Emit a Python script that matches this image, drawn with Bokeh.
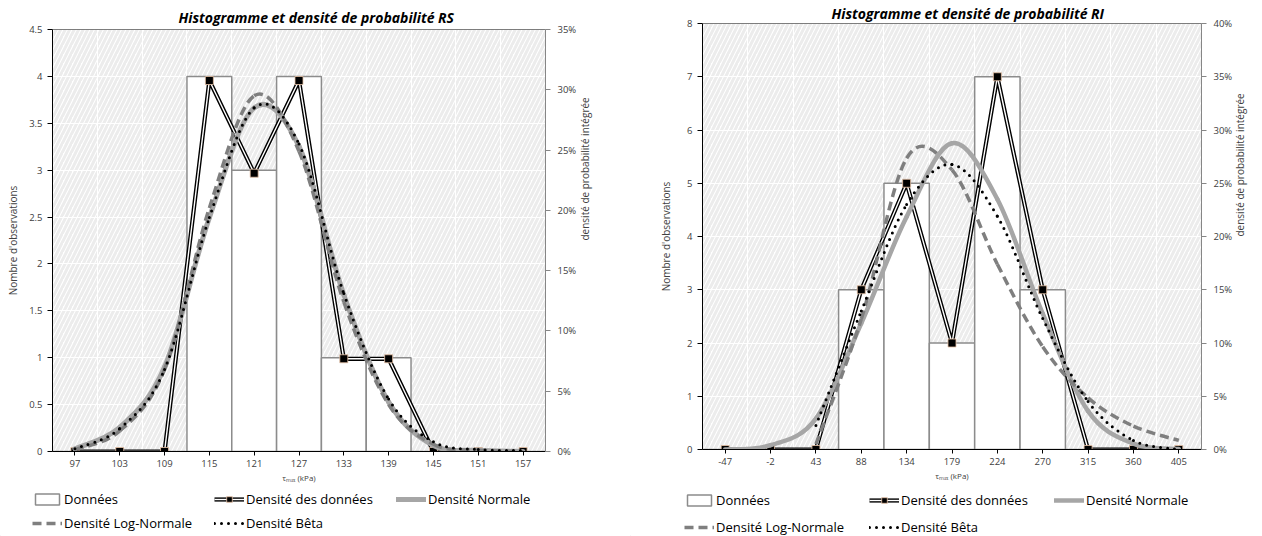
import math
from bokeh.plotting import figure
from bokeh.layouts import row, column
from bokeh.models import (Range1d, LinearAxis, FixedTicker, NumeralTickFormatter,
                          BoxAnnotation, Span, Legend, LegendItem)
from bokeh.embed import file_html
from bokeh.resources import INLINE

NaN = float("nan")

# ---------------- data : RS ----------------
rs_title = "Histogramme et densité de probabilité RS"
rs_categories = ["97", "103", "109", "115", "121", "127", "133", "139", "145", "151", "157"]
rs_counts = [0, 0, 0, 4, 3, 4, 1, 1, 0, 0, 0]
rs_data_density = [0, 0, 0, 0.3077, 0.2308, 0.3077, 0.0769, 0.0769, 0, 0, 0]
rs_normal = [0.0023, 0.020, 0.070, 0.194, 0.285, 0.253, 0.130, 0.041, 0.005, 0.001, 0.0]
rs_lognormal = [0.0016, 0.017, 0.068, 0.202, 0.295, 0.249, 0.124, 0.039, 0.006, 0.001, 0.0]
rs_beta = [0.0023, 0.019, 0.068, 0.194, 0.285, 0.255, 0.131, 0.0435, 0.008, 0.0016, 0.0008]
rs_count_ticks = [0, 0.5, 1, 1.5, 2, 2.5, 3, 3.5, 4, 4.5]
rs_count_labels = ["0", "0.5", "1", "1.5", "2", "2.5", "3", "3.5", "4", "4.5"]
rs_pct_ticks = [0, 0.05, 0.10, 0.15, 0.20, 0.25, 0.30, 0.35]

# ---------------- data : RI ----------------
ri_title = "Histogramme et densité de probabilité RI"
ri_categories = ["-47", "-2", "43", "88", "134", "179", "224", "270", "315", "360", "405"]
ri_counts = [0, 0, 0, 3, 5, 2, 7, 3, 0, 0, 0]
ri_data_density = [0, 0, 0, 0.15, 0.25, 0.10, 0.35, 0.15, 0, 0, 0]
ri_normal = [0.0, 0.004, 0.029, 0.1185, 0.2185, 0.2875, 0.235, 0.1275, 0.036, 0.0055, 0.0005]
ri_lognormal = [NaN, NaN, 0.005, 0.1225, 0.2735, 0.2625, 0.174, 0.0965, 0.0485, 0.022, 0.0085]
ri_beta = [NaN, NaN, 0.0225, 0.13, 0.23, 0.2675, 0.219, 0.123, 0.045, 0.0085, 0.0]
ri_count_ticks = [0, 1, 2, 3, 4, 5, 6, 7, 8]
ri_count_labels = ["0", "1", "2", "3", "4", "5", "6", "7", "8"]
ri_pct_ticks = [0, 0.05, 0.10, 0.15, 0.20, 0.25, 0.30, 0.35, 0.40]

legend_labels = ["Données", "Densité des données", "Densité Normale",
                 "Densité Log-Normale", "Densité Bêta"]
y_left_title = "Nombre d'observations"
y_right_title = "densité de probabilité intégrée"
x_title = "τₘₐₓ (kPa)"

FONT = "Open Sans"
TXT = "#404040"

# shared series styles
ST_BAR = dict(fill_color="white", line_color="#8c8c8c", line_width=1.5)
ST_DB = dict(line_color="black", line_width=4.2)
ST_DW = dict(line_color="white", line_width=1.4)
ST_DM = dict(marker="square", size=8, fill_color="black", line_color="#e9c3a6", line_width=0.8)
ST_LOGN = dict(line_color="#7f7f7f", line_width=3.5, line_dash="9 5")
ST_BETA = dict(line_color="black", line_width=3, line_dash="0 7", line_cap="round")


def smooth_segments(vals):
    """Bezier control points (Excel-like smoothing) between consecutive values."""
    n = len(vals)
    ok = [not math.isnan(v) for v in vals]
    d = {k: [] for k in ("x0", "y0", "x1", "y1", "cx0", "cy0", "cx1", "cy1")}
    for i in range(n - 1):
        if not (ok[i] and ok[i + 1]):
            continue
        p = i - 1 if i - 1 >= 0 and ok[i - 1] else i
        q = i + 2 if i + 2 < n and ok[i + 2] else i + 1
        d["x0"].append(i)
        d["y0"].append(vals[i])
        d["x1"].append(i + 1)
        d["y1"].append(vals[i + 1])
        d["cx0"].append(i + (i + 1 - p) / 6.0)
        d["cy0"].append(vals[i] + (vals[i + 1] - vals[p]) / 6.0)
        d["cx1"].append(i + 1 - (q - i) / 6.0)
        d["cy1"].append(vals[i + 1] - (vals[q] - vals[i]) / 6.0)
    return d


def make_chart(title, cats, counts, dens, normal, lognormal, beta,
               count_ticks, count_labels, pct_ticks, g):
    n = len(cats)
    idx = list(range(n))
    p = figure(width=g["width"], height=485, output_backend="svg", toolbar_location=None,
               title=title,
               x_range=Range1d(-0.5, n - 0.5), y_range=Range1d(0, count_ticks[-1]),
               min_border_left=g["bl"], min_border_right=g["br"],
               min_border_top=g["bt"], min_border_bottom=g["bb"])
    try:
        p.frame_align = False
    except Exception:
        pass
    p.extra_y_ranges = {"pct": Range1d(0, pct_ticks[-1])}
    p.outline_line_color = None
    p.background_fill_color = "white"
    p.border_fill_color = "white"

    p.title.align = "left"
    p.title.offset = g["t_off"]
    p.title.standoff = g["t_stand"]
    p.title.text_font = FONT
    p.title.text_font_style = "bold italic"
    p.title.text_font_size = "14px"
    p.title.text_color = "black"

    p.add_layout(BoxAnnotation(fill_color="white", fill_alpha=1, line_color=None,
                               hatch_pattern="/", hatch_color="#ececec",
                               hatch_weight=3, hatch_scale=9, level="image"))

    p.xgrid.ticker = FixedTicker(ticks=[i + 0.5 for i in range(n - 1)])
    p.ygrid.ticker = FixedTicker(ticks=count_ticks)
    p.xgrid.grid_line_color = "white"
    p.ygrid.grid_line_color = "white"
    p.xgrid.grid_line_width = 1
    p.ygrid.grid_line_width = 1

    xa = p.xaxis[0]
    xa.ticker = FixedTicker(ticks=idx)
    xa.major_label_overrides = {i: c for i, c in enumerate(cats)}
    ya = p.yaxis[0]
    ya.ticker = FixedTicker(ticks=count_ticks)
    ya.major_label_overrides = {t: l for t, l in zip(count_ticks, count_labels)}
    ra = LinearAxis(y_range_name="pct", ticker=FixedTicker(ticks=pct_ticks),
                    formatter=NumeralTickFormatter(format="0%"))
    p.add_layout(ra, "right")
    for ax in (xa, ya, ra):
        ax.major_tick_in = 0
        ax.major_tick_out = 5
        ax.minor_tick_line_color = None
        ax.major_label_text_font = FONT
        ax.major_label_text_font_size = "9.5px"
        ax.major_label_text_color = TXT
        ax.axis_line_color = "black"
        ax.major_tick_line_color = "black"
        ax.axis_label_text_font = FONT
        ax.axis_label_text_font_style = "normal"
        ax.axis_label_text_color = TXT
        ax.axis_label_text_font_size = "10px"
    xa.major_tick_out = 4
    xa.major_label_standoff = 4
    ya.major_label_standoff = 5
    ra.major_label_standoff = 7
    ra.axis_line_color = "#868686"
    ra.major_tick_line_color = "#868686"

    xa.axis_label = x_title
    xa.axis_label_text_font_size = "8px"
    xa.axis_label_standoff = 2
    ya.axis_label = y_left_title
    ya.axis_label_standoff = g["yl_stand"]
    ra.axis_label = y_right_title
    ra.axis_label_standoff = g["yr_stand"]
    try:
        ra.axis_label_orientation = math.pi / 2
    except Exception:
        pass

    p.add_layout(Span(location=count_ticks[-1], dimension="width",
                      line_color="black", line_width=1))

    p.vbar(x=idx, top=counts, width=1, **ST_BAR)
    p.line(idx, dens, y_range_name="pct", **ST_DB)
    p.line(idx, dens, y_range_name="pct", **ST_DW)
    p.scatter(idx, dens, y_range_name="pct", **ST_DM)
    p.bezier(**smooth_segments(normal), y_range_name="pct",
             line_color="#a6a6a6", line_width=g["norm_w"], line_cap="round")
    p.bezier(**smooth_segments(lognormal), y_range_name="pct", **ST_LOGN)
    p.bezier(**smooth_segments(beta), y_range_name="pct", **ST_BETA)
    return p


def make_legend(g):
    """Legend strip under a chart. The glyph prototypes sit outside the visible
    range: they exist only so that the legend can draw its swatches."""
    lf = figure(width=g["width"], height=51, output_backend="svg", toolbar_location=None,
                x_range=Range1d(0, 1), y_range=Range1d(0, 1),
                x_axis_type=None, y_axis_type=None,
                min_border_left=0, min_border_right=0, min_border_top=0, min_border_bottom=0)
    try:
        lf.frame_align = False
    except Exception:
        pass
    lf.outline_line_color = None
    lf.grid.visible = False
    off = [-5, -4]
    bars = lf.vbar(x=off[:1], top=off[:1], bottom=off[1:], width=1, **ST_BAR)
    db = lf.line(off, off, **ST_DB)
    dw = lf.line(off, off, **ST_DW)
    dm = lf.scatter(off[:1], off[:1], **ST_DM)
    nr = lf.line(off, off, line_color="#a6a6a6", line_width=g["norm_w"], line_cap="round")
    ln = lf.line(off, off, **ST_LOGN)
    bt = lf.line(off, off, **ST_BETA)
    items = [LegendItem(label=legend_labels[0], renderers=[bars], index=0),
             LegendItem(label=legend_labels[1], renderers=[db, dw, dm], index=0),
             LegendItem(label=legend_labels[2], renderers=[nr], index=0),
             LegendItem(label=legend_labels[3], renderers=[ln], index=0),
             LegendItem(label=legend_labels[4], renderers=[bt], index=0)]
    leg = Legend(items=items, location=g["leg"], orientation="horizontal", ncols=3,
                 padding=0, margin=0, spacing=g["leg_sp"], border_line_color=None,
                 background_fill_alpha=0, label_text_font=FONT,
                 label_text_font_size="13px", label_text_color="black",
                 label_standoff=2, glyph_width=30, glyph_height=14,
                 label_height=17, label_width=144)
    lf.add_layout(leg)
    return lf


g_rs = dict(width=630, bl=52, br=85, bt=29, bb=34, norm_w=5,
            t_off=126, t_stand=6, yl_stand=6, yr_stand=6,
            leg=(32, 4), leg_sp=6)
g_ri = dict(width=632, bl=72, br=61, bt=23, bb=36, norm_w=4.5,
            t_off=129, t_stand=2, yl_stand=11, yr_stand=5,
            leg=(54, 0), leg_sp=9)

p1 = make_chart(rs_title, rs_categories, rs_counts, rs_data_density, rs_normal,
                rs_lognormal, rs_beta, rs_count_ticks, rs_count_labels, rs_pct_ticks, g_rs)
p2 = make_chart(ri_title, ri_categories, ri_counts, ri_data_density, ri_normal,
                ri_lognormal, ri_beta, ri_count_ticks, ri_count_labels, ri_pct_ticks, g_ri)
l1 = make_legend(g_rs)
l2 = make_legend(g_ri)

layout = row(column(p1, l1), column(p2, l2))
open("out.html", "w").write(file_html(layout, INLINE))
